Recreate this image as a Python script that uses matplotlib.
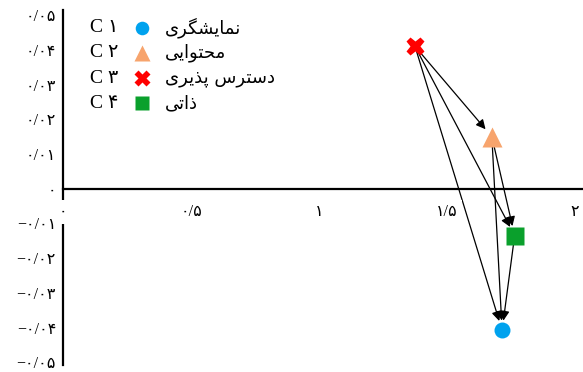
import matplotlib
matplotlib.use('Agg')
import matplotlib.pyplot as plt

# criteria (C1..C4)
names = ['نمایشگری', 'محتوایی', 'دسترس پذیری', 'ذاتی']
codes = ['C ۱', 'C ۲', 'C ۳', 'C ۴']
x_vals = [1.715, 1.675, 1.375, 1.764]
y_vals = [-0.0408, 0.015, 0.041, -0.0135]

# influence arrows (from, to) by index
links = [(2, 1), (2, 3), (2, 0), (1, 3), (1, 0), (3, 0)]

xticks = [0, 0.5, 1, 1.5, 2]
xtick_labels = ['۰', '۰/۵', '۱', '۱/۵', '۲']
yticks = [0.05, 0.04, 0.03, 0.02, 0.01, 0, -0.01, -0.02, -0.03, -0.04, -0.05]
ytick_labels = ['۰/۰۵', '۰/۰۴', '۰/۰۳', '۰/۰۲', '۰/۰۱', '۰',
                '−۰/۰۱', '−۰/۰۲', '−۰/۰۳', '−۰/۰۴', '−۰/۰۵']

markers = ['o', '^', 'X', 's']
sizes = [11.5, 14, 13.5, 12.5]
colors = ['#00A2EE', '#F7A46D', '#FF0000', '#0AA02C']

# matplotlib does not join arabic letters, so pick the contextual forms by hand
forms = {
    'ا': ('\uFE8D', '\uFE8E', None, None),
    'ت': ('\uFE95', '\uFE96', '\uFE97', '\uFE98'),
    'ح': ('\uFEA1', '\uFEA2', '\uFEA3', '\uFEA4'),
    'د': ('\uFEA9', '\uFEAA', None, None),
    'ذ': ('\uFEAB', '\uFEAC', None, None),
    'ر': ('\uFEAD', '\uFEAE', None, None),
    'س': ('\uFEB1', '\uFEB2', '\uFEB3', '\uFEB4'),
    'ش': ('\uFEB5', '\uFEB6', '\uFEB7', '\uFEB8'),
    'م': ('\uFEE1', '\uFEE2', '\uFEE3', '\uFEE4'),
    'ن': ('\uFEE5', '\uFEE6', '\uFEE7', '\uFEE8'),
    'و': ('\uFEED', '\uFEEE', None, None),
    'ی': ('\uFBFC', '\uFBFD', '\uFBFE', '\uFBFF'),
    'پ': ('\uFB56', '\uFB57', '\uFB58', '\uFB59'),
    'گ': ('\uFB92', '\uFB93', '\uFB94', '\uFB95'),
}


def shape(text):
    out = []
    for i, ch in enumerate(text):
        if ch not in forms:
            out.append(ch)
            continue
        prev = text[i - 1] if i > 0 else ''
        nxt = text[i + 1] if i + 1 < len(text) else ''
        join_prev = prev in forms and forms[prev][2] is not None
        join_next = nxt in forms and forms[ch][2] is not None
        if join_prev and join_next:
            out.append(forms[ch][3])
        elif join_prev:
            out.append(forms[ch][1])
        elif join_next:
            out.append(forms[ch][2])
        else:
            out.append(forms[ch][0])
    return ''.join(out[::-1])


num_font = ['Liberation Serif', 'DejaVu Sans']

fig = plt.figure(figsize=(5.83, 3.72), dpi=100)
ax = fig.add_axes([63 / 583, 7 / 372, 520 / 583, 355 / 372])

for a, b in links:
    ax.annotate('', xy=(x_vals[b], y_vals[b]), xytext=(x_vals[a], y_vals[a]),
                arrowprops=dict(arrowstyle='-|>', color='black', lw=0.9,
                                shrinkA=3, shrinkB=7, mutation_scale=14),
                zorder=1)

for i in range(len(names)):
    ax.plot(x_vals[i], y_vals[i], marker=markers[i], ms=sizes[i],
            color=colors[i], mec='none', ls='none', zorder=4)

# hand made legend, top left
for i in range(len(names)):
    yy = 0.95 - 0.071 * i
    ax.text(0.079, yy, codes[i], transform=ax.transAxes, ha='center', va='center',
            fontsize=14, family=num_font)
    ax.plot(0.152, yy, marker=markers[i], ms=sizes[i] * 0.85, color=colors[i],
            mec='none', transform=ax.transAxes, clip_on=False)
    ax.text(0.196, yy, shape(names[i]), transform=ax.transAxes, ha='left',
            va='center', fontsize=13, family=['DejaVu Sans'])

ax.set_xlim(0, 2.031)
ax.set_ylim(-0.0508, 0.0515)

ax.spines['top'].set_visible(False)
ax.spines['right'].set_visible(False)
ax.spines['bottom'].set_position(('data', 0))
for side in ['left', 'bottom']:
    ax.spines[side].set_linewidth(1.6)
    ax.spines[side].set_zorder(2)

ax.set_xticks(xticks)
ax.set_xticklabels(xtick_labels, family=num_font, fontsize=11.5)
ax.set_yticks(yticks)
ax.set_yticklabels(ytick_labels, family=num_font, fontsize=11.5)
ax.tick_params(axis='x', length=0, pad=11)
ax.tick_params(axis='y', length=0, pad=5)
# x labels sit on a white box that hides the lines behind them
ax.xaxis.set_zorder(3)
for lab in ax.get_xticklabels():
    lab.set_bbox(dict(fc='white', ec='none', pad=3))

fig.savefig('out.png', dpi=100)
